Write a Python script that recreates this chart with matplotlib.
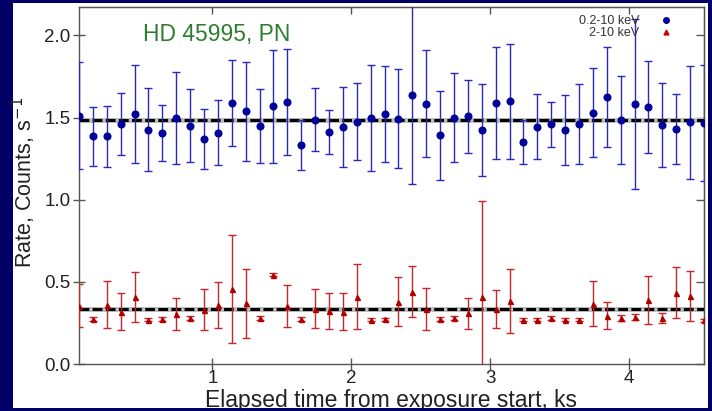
import matplotlib
matplotlib.use("Agg")
import matplotlib.pyplot as plt
from matplotlib.patches import Rectangle
from matplotlib.lines import Line2D
import numpy as np

# ---- data ----
time_ks = [0.04 + 0.1 * i for i in range(46)]

rate_soft = [1.512, 1.386, 1.386, 1.461, 1.522, 1.427, 1.407, 1.496, 1.451, 1.370,
             1.407, 1.589, 1.537, 1.451, 1.569, 1.595, 1.333, 1.488, 1.411, 1.443,
             1.474, 1.498, 1.522, 1.494, 1.640, 1.585, 1.392, 1.500, 1.508, 1.423,
             1.589, 1.598, 1.352, 1.445, 1.459, 1.425, 1.461, 1.528, 1.626, 1.484,
             1.583, 1.565, 1.453, 1.429, 1.471, 1.467]
err_soft = [0.327, 0.181, 0.185, 0.188, 0.300, 0.250, 0.172, 0.280, 0.220, 0.184,
            0.197, 0.260, 0.303, 0.225, 0.343, 0.325, 0.153, 0.192, 0.135, 0.243,
            0.234, 0.323, 0.293, 0.299, 0.545, 0.325, 0.269, 0.271, 0.222, 0.280,
            0.343, 0.350, 0.134, 0.196, 0.138, 0.212, 0.244, 0.271, 0.306, 0.267,
            0.520, 0.278, 0.256, 0.214, 0.345, 0.355]

rate_hard = [0.354, 0.274, 0.360, 0.319, 0.407, 0.270, 0.274, 0.305, 0.280, 0.329,
             0.360, 0.455, 0.370, 0.278, 0.543, 0.354, 0.274, 0.337, 0.323, 0.319,
             0.409, 0.270, 0.272, 0.380, 0.441, 0.333, 0.274, 0.280, 0.309, 0.409,
             0.335, 0.384, 0.270, 0.270, 0.280, 0.270, 0.270, 0.368, 0.295, 0.282,
             0.287, 0.390, 0.282, 0.435, 0.415, 0.266]
err_hard = [0.131, 0.010, 0.143, 0.112, 0.150, 0.008, 0.010, 0.099, 0.010, 0.125,
            0.140, 0.330, 0.210, 0.012, 0.010, 0.128, 0.012, 0.118, 0.111, 0.111,
            0.197, 0.008, 0.008, 0.150, 0.157, 0.128, 0.010, 0.010, 0.094, 0.585,
            0.117, 0.194, 0.008, 0.010, 0.012, 0.008, 0.008, 0.138, 0.080, 0.018,
            0.018, 0.144, 0.030, 0.155, 0.152, 0.008]

mean_soft = 1.488
mean_hard = 0.333

series_labels = ["0.2-10 keV", "2-10 keV"]
title_text = "HD 45995, PN"
x_ticks = [1, 2, 3, 4]
y_ticks = [0.0, 0.5, 1.0, 1.5, 2.0]

# ---- figure ----
plt.rcParams["font.family"] = ["Liberation Sans", "DejaVu Sans"]
W, H = 712, 411
NAVY = "#000066"
fig = plt.figure(figsize=(W / 100, H / 100), dpi=100)
fig.patch.set_facecolor(NAVY)
fig.add_artist(Rectangle((13 / W, 1 - 408 / H), (708 - 13) / W, (408 - 3) / H,
                         transform=fig.transFigure, facecolor="white",
                         edgecolor="none", zorder=-10))
# bottom navy strip drawn on top (clips the descenders like the original)
fig.add_artist(Rectangle((0, 0), 1, 3 / H, transform=fig.transFigure,
                         facecolor=NAVY, edgecolor="none", zorder=20))

L, R, T, B = 79, 704, 7, 364
ax = fig.add_axes([L / W, 1 - B / H, (R - L) / W, (B - T) / H])
ax.set_facecolor("white")

x_lo, x_hi = 0.04, 4.54
ax.set_xlim(x_lo, x_hi)
ax.set_ylim(0, 2.173)

# mean lines
for m in (mean_soft, mean_hard):
    ax.axhline(m, color="#bdbdbd", lw=3.6, zorder=2)
    ax.axhline(m, color="black", lw=2.2, ls=(0, (3.2, 1.1)), zorder=3)

ax.errorbar(time_ks, rate_soft, yerr=err_soft, fmt="o", color="#00009a",
            ecolor="#2a2ab8", elinewidth=1.0, capsize=3.2, capthick=1.0,
            markersize=4.8, zorder=4)
ax.errorbar(time_ks, rate_hard, yerr=err_hard, fmt="^", color="#b00000",
            ecolor="#c42828", elinewidth=1.0, capsize=3.2, capthick=1.0,
            markersize=3.6, zorder=4)

# legend (text then marker)
handles = [Line2D([], [], ls="none", marker="o", color="#00009a", markersize=4),
           Line2D([], [], ls="none", marker="^", color="#cc0000", markersize=3.5)]
leg = ax.legend(handles, series_labels, loc="upper right", markerfirst=False,
                frameon=False, fontsize=9, handlelength=1.0, handletextpad=1.6,
                labelspacing=0.0, borderaxespad=0.0,
                bbox_to_anchor=((677 - L) / (R - L), 1 - (10 - T) / (B - T)))
for t in leg.get_texts():
    t.set_color("#333333")

# ticks
for s in ax.spines.values():
    s.set_color("#555555")
    s.set_linewidth(1.0)
ax.set_xticks(x_ticks)
ax.set_yticks(y_ticks)
ax.set_yticklabels([f"{v:.1f}" for v in y_ticks])
ax.tick_params(direction="inout", length=8, width=1, colors="#555555",
               labelsize=13.5, labelcolor="#222222")
ax.tick_params(axis="x", pad=0.5)
ax.tick_params(axis="y", pad=2)
sx = ax.secondary_xaxis("top")
sx.set_xticks(x_ticks)
sx.tick_params(direction="in", length=5, width=1, colors="#555555", labeltop=False)
sx.set_xticklabels([])
sy = ax.secondary_yaxis("right")
sy.set_yticks(y_ticks)
sy.tick_params(direction="in", length=6, width=1, colors="#555555", labelright=False)
sy.set_yticklabels([])

ax.set_xlabel("Elapsed time from exposure start, ks", fontsize=16.5,
              color="#222222")
ax.xaxis.label.set_verticalalignment("baseline")
ax.xaxis.set_label_coords((391 - L) / (R - L), (B - 406.5) / (B - T))
ax.set_ylabel("Rate, Counts, s$^{-1}$", fontsize=15.5, color="#222222")
ax.yaxis.label.set_verticalalignment("center")
ax.yaxis.set_label_coords((24 - L) / (R - L), (B - 182) / (B - T))

fig.text(143 / W, 1 - 34.5 / H, title_text, color="#2e7d2e", fontsize=16.5,
         va="center", ha="left")

fig.savefig("out.png", dpi=100, facecolor=fig.get_facecolor())
